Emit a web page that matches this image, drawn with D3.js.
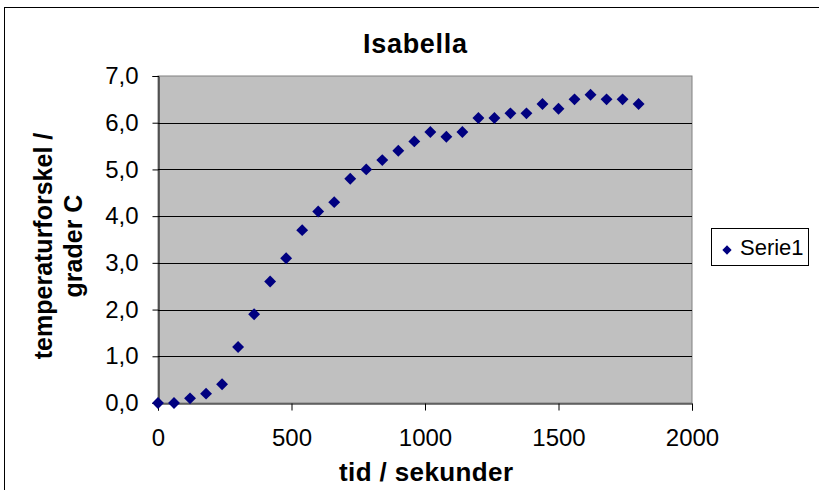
<!DOCTYPE html>
<html>
<head>
<meta charset="utf-8">
<script src="https://cdn.jsdelivr.net/npm/d3@7"></script>
<style>
  body { margin: 0; background: #fff; }
  text { font-family: "Liberation Sans", Arial, sans-serif; }
</style>
</head>
<body>
<div id="chart"></div>
<script>
// time in seconds and temperature difference
var tid = [0, 60, 120, 180, 240, 300, 360, 420, 480, 540, 600, 660, 720, 780, 840, 900,
  960, 1020, 1080, 1140, 1200, 1260, 1320, 1380, 1440, 1500, 1560, 1620, 1680, 1740, 1800]
var temp = [0, 0, 0.1, 0.2, 0.4, 1.2, 1.9, 2.6, 3.1, 3.7, 4.1, 4.3, 4.8, 5.0, 5.2, 5.4,
  5.6, 5.8, 5.7, 5.8, 6.1, 6.1, 6.2, 6.2, 6.4, 6.3, 6.5, 6.6, 6.5, 6.5, 6.4]
var xTicks = [0, 500, 1000, 1500, 2000]
var yTicks = [0, 1, 2, 3, 4, 5, 6, 7]

var W = 819, H = 490
var plot = {left: 158, top: 76, right: 692, bottom: 403}

var svg = d3.select("#chart").append("svg")
  .attr("width", W)
  .attr("height", H)

// outer chart border
svg.append("rect")
  .attr("x", 4.5).attr("y", 7.5)
  .attr("width", W).attr("height", H)
  .attr("fill", "#fff")
  .attr("stroke", "#000")

var x = d3.scaleLinear().domain([0, 2000]).range([plot.left, plot.right])
var y = d3.scaleLinear().domain([0, 7]).range([plot.bottom, plot.top])

svg.append("rect")
  .attr("x", plot.left).attr("y", plot.top)
  .attr("width", plot.right - plot.left).attr("height", plot.bottom - plot.top)
  .attr("fill", "#c0c0c0")
  .attr("stroke", "#808080")

// gridlines
svg.append("g").selectAll("line")
  .data(yTicks.slice(1, -1))
  .join("line")
  .attr("x1", plot.left).attr("x2", plot.right)
  .attr("y1", d => Math.round(y(d)) + 0.5).attr("y2", d => Math.round(y(d)) + 0.5)
  .attr("stroke", "#000")

var fmt = d => d3.format(".1f")(d).replace(".", ",")

var yAxis = d3.axisLeft(y).tickValues(yTicks).tickSize(6).tickPadding(14).tickFormat(fmt)
var xAxis = d3.axisBottom(x).tickValues(xTicks).tickSize(7).tickPadding(18).tickFormat(d3.format("d"))

svg.append("g")
  .attr("transform", "translate(" + (plot.left + 0.5) + ",0)")
  .call(yAxis)
  .call(g => g.selectAll("text").attr("font-size", 24).attr("fill", "#000"))
  .call(g => g.selectAll("line, path").attr("stroke", "#000"))

svg.append("g")
  .attr("transform", "translate(0," + (plot.bottom + 0.5) + ")")
  .call(xAxis)
  .call(g => g.selectAll("text").attr("font-size", 24).attr("fill", "#000"))
  .call(g => g.selectAll("line, path").attr("stroke", "#000"))

// markers
var diamond = d3.symbol().type(d3.symbolDiamond2).size(90)
svg.append("g").selectAll("path")
  .data(tid.map((t, i) => [t, temp[i]]))
  .join("path")
  .attr("d", diamond)
  .attr("transform", d => "translate(" + x(d[0]) + "," + y(d[1]) + ")")
  .attr("fill", "#000080")

// titles
svg.append("text")
  .attr("x", 415).attr("y", 53)
  .attr("text-anchor", "middle")
  .attr("font-size", 27).attr("font-weight", "bold")
  .attr("textLength", 104)
  .text("Isabella")

svg.append("text")
  .attr("x", 426).attr("y", 481)
  .attr("text-anchor", "middle")
  .attr("font-size", 26).attr("font-weight", "bold")
  .attr("textLength", 174)
  .text("tid / sekunder")

var yt = svg.append("text")
  .attr("transform", "translate(52,246) rotate(-90)")
  .attr("text-anchor", "middle")
  .attr("font-size", 25).attr("font-weight", "bold")
yt.append("tspan").attr("x", 0).attr("dy", 0).text("temperaturforskel /")
yt.append("tspan").attr("x", 0).attr("dy", 30).text("grader C")

// legend
var lg = svg.append("g")
lg.append("rect")
  .attr("x", 711.5).attr("y", 228.5)
  .attr("width", 97).attr("height", 37)
  .attr("fill", "#fff").attr("stroke", "#000")
lg.append("path")
  .attr("d", d3.symbol().type(d3.symbolDiamond2).size(55))
  .attr("transform", "translate(727,250)")
  .attr("fill", "#000080")
lg.append("text")
  .attr("x", 740).attr("y", 255)
  .attr("font-size", 22)
  .text("Serie1")
</script>
</body>
</html>
